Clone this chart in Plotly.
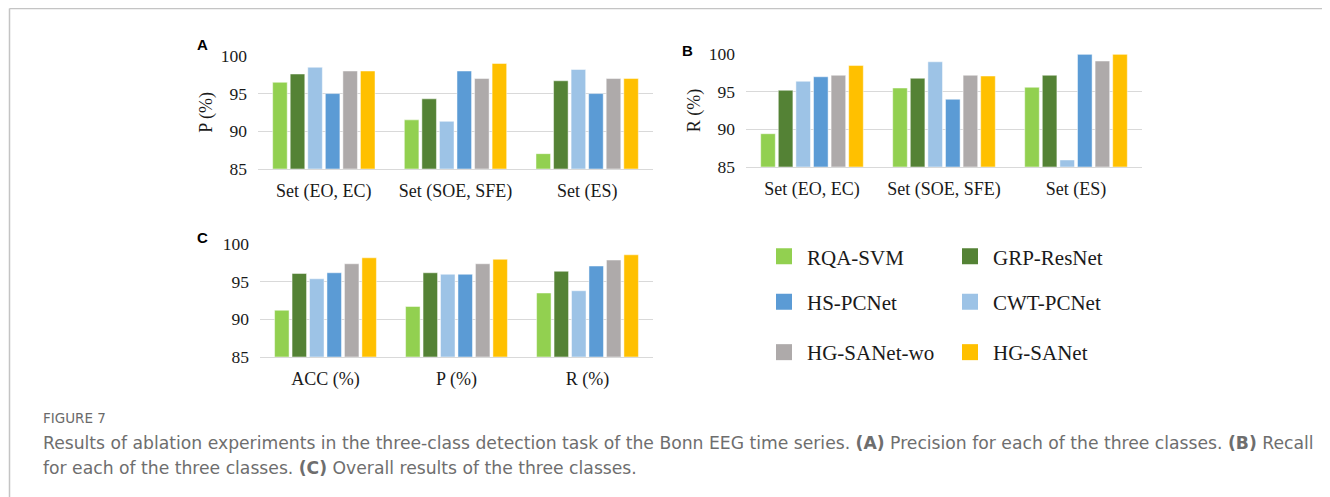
import plotly.graph_objects as go

# ---------------- data ----------------
methods = ["RQA-SVM", "GRP-ResNet", "CWT-PCNet", "HS-PCNet", "HG-SANet-wo", "HG-SANet"]
colors = ["#92D050", "#548235", "#9DC3E6", "#5B9BD5", "#AEAAAA", "#FFC000"]

sets_ab = ["Set (EO, EC)", "Set (SOE, SFE)", "Set (ES)"]
metrics_c = ["ACC (%)", "P (%)", "R (%)"]

# Panel A: precision per class
prec_rqa_svm = [96.5, 91.5, 87.0]
prec_grp_resnet = [97.6, 94.3, 96.7]
prec_cwt_pcnet = [98.5, 91.3, 98.2]
prec_hs_pcnet = [95.0, 98.0, 95.0]
prec_hg_sanet_wo = [98.0, 97.0, 97.0]
prec_hg_sanet = [98.0, 99.0, 97.0]

# Panel B: recall per class
rec_rqa_svm = [89.4, 95.5, 95.6]
rec_grp_resnet = [95.2, 96.8, 97.2]
rec_cwt_pcnet = [96.4, 99.0, 85.9]
rec_hs_pcnet = [97.0, 94.0, 100.0]
rec_hg_sanet_wo = [97.2, 97.2, 99.1]
rec_hg_sanet = [98.5, 97.1, 100.0]

# Panel C: overall
all_rqa_svm = [91.2, 91.7, 93.5]
all_grp_resnet = [96.1, 96.2, 96.4]
all_cwt_pcnet = [95.4, 96.0, 93.8]
all_hs_pcnet = [96.2, 96.0, 97.1]
all_hg_sanet_wo = [97.4, 97.4, 97.9]
all_hg_sanet = [98.2, 98.0, 98.6]

panel_a = [prec_rqa_svm, prec_grp_resnet, prec_cwt_pcnet, prec_hs_pcnet, prec_hg_sanet_wo, prec_hg_sanet]
panel_b = [rec_rqa_svm, rec_grp_resnet, rec_cwt_pcnet, rec_hs_pcnet, rec_hg_sanet_wo, rec_hg_sanet]
panel_c = [all_rqa_svm, all_grp_resnet, all_cwt_pcnet, all_hs_pcnet, all_hg_sanet_wo, all_hg_sanet]

y_ticks = [85, 90, 95, 100]

legend_of = {"RQA-SVM": "legend", "GRP-ResNet": "legend",
             "HS-PCNet": "legend2", "CWT-PCNet": "legend2",
             "HG-SANet-wo": "legend3", "HG-SANet": "legend3"}
legend_rank = {"RQA-SVM": 1, "GRP-ResNet": 2, "HS-PCNet": 1, "CWT-PCNet": 2,
               "HG-SANet-wo": 1, "HG-SANet": 2}

W, H = 1330, 497
OFF = 8  # page body margin: the figure div starts at (8, 8) in the window
def px(x):
    return (x - OFF) / W
def py(y):
    return 1 - (y - OFF) / H

fig = go.Figure()

panels = [(panel_a, sets_ab, "x", "y"),
          (panel_b, sets_ab, "x2", "y2"),
          (panel_c, metrics_c, "x3", "y3")]

for vals, cats, xa, ya in panels:
    for m, c, v in zip(methods, colors, vals):
        fig.add_trace(go.Bar(
            x=cats, y=v, name=m, xaxis=xa, yaxis=ya, legendgroup=m,
            marker=dict(color=c, line=dict(color="rgba(255,255,255,0.6)", width=0.8)),
            showlegend=False,
            hovertemplate=m + ": %{y}<extra></extra>",
        ))

# legend entries (larger square swatches, as in the reference)
for m, c in zip(methods, colors):
    fig.add_trace(go.Scatter(
        x=[None], y=[None], mode="markers", name=m, legendgroup=m,
        marker=dict(symbol="square", size=16, color=c),
        legend=legend_of[m], legendrank=legend_rank[m], hoverinfo="skip",
    ))

serif = "Liberation Serif, Times New Roman, serif"
tickfont = dict(family=serif, size=17.5, color="#1a1a1a")
catfont = dict(family=serif, size=18, color="#1a1a1a")

def yax(domain, anchor, title=None):
    d = dict(domain=domain, anchor=anchor, range=[85, 100], tickvals=y_ticks,
             showgrid=True, gridcolor="#D9D9D9", gridwidth=1.2,
             zeroline=False, showline=False, ticks="", tickfont=tickfont,
             ticklabelstandoff=10, fixedrange=True, automargin=False)
    if title:
        d["title"] = dict(text=title, font=dict(family=serif, size=18, color="#1a1a1a"))
    return d

def xax(domain, anchor):
    return dict(domain=domain, anchor=anchor, showgrid=False, zeroline=False,
                showline=True, linecolor="#D9D9D9", linewidth=1.2, ticks="",
                tickfont=catfont, ticklabelstandoff=6, fixedrange=True, automargin=False)

fig.update_layout(
    template="none",
    width=W, height=H,
    margin=dict(l=0, r=0, t=0, b=0, pad=0),
    paper_bgcolor="white", plot_bgcolor="white",
    barmode="group", bargap=0.2, bargroupgap=0.17,
    xaxis=xax([px(258), px(653)], "y"),
    yaxis=yax([py(168.7), py(56)], "x", "P (%)"),
    xaxis2=xax([px(746), px(1142)], "y2"),
    yaxis2=yax([py(166.7), py(54.3)], "x2", "R (%)"),
    xaxis3=xax([px(260), px(653)], "y3"),
    yaxis3=yax([py(356.7), py(244.3)], "x3"),
    font=dict(family=serif),
)

legend_common = dict(orientation="h", xanchor="left", yanchor="middle",
                     entrywidth=135, entrywidthmode="pixels", itemsizing="trace",
                     itemwidth=36,
                     font=dict(family=serif, size=21, color="#1a1a1a"),
                     bgcolor="rgba(0,0,0,0)", borderwidth=0, traceorder="normal",
                     itemclick=False, itemdoubleclick=False)
fig.update_layout(
    legend=dict(x=px(761), y=py(256.7), **legend_common),
    legend2=dict(x=px(761), y=py(302), **legend_common),
    legend3=dict(x=px(761), y=py(352.5), **legend_common),
)

# panel letters
for txt, x, y in [("A", 202, 44), ("B", 687, 50), ("C", 202, 238)]:
    fig.add_annotation(text="<b>" + txt + "</b>", x=px(x), y=py(y), xref="paper", yref="paper",
                       showarrow=False, xanchor="center", yanchor="middle",
                       font=dict(family="Liberation Sans, Arial, sans-serif", size=15, color="#000"))

# frame lines
fig.add_shape(type="line", xref="paper", yref="paper", x0=px(9.5), x1=1, y0=py(8.6), y1=py(8.6),
              line=dict(color="#C4C4C4", width=1.5))
fig.add_shape(type="line", xref="paper", yref="paper", x0=px(9.5), x1=px(9.5), y0=py(8.6), y1=0,
              line=dict(color="#C4C4C4", width=1.5))

# caption
cap_font = "DejaVu Sans, Open Sans, sans-serif"
fig.add_annotation(text="FIGURE 7", x=px(41), y=py(418), xref="paper", yref="paper",
                   showarrow=False, xanchor="left", yanchor="middle",
                   font=dict(family=cap_font, size=13.5, color="#6a6a6a"))
fig.add_annotation(
    text="Results of ablation experiments in the three-class detection task of the Bonn EEG time series. "
         "<b>(A)</b> Precision for each of the three classes. <b>(B)</b> Recall",
    x=px(41), y=py(443), xref="paper", yref="paper", showarrow=False,
    xanchor="left", yanchor="middle", font=dict(family=cap_font, size=17.2, color="#6e6e6e"))
fig.add_annotation(
    text="for each of the three classes. <b>(C)</b> Overall results of the three classes.",
    x=px(41), y=py(468), xref="paper", yref="paper", showarrow=False,
    xanchor="left", yanchor="middle", font=dict(family=cap_font, size=17.2, color="#6e6e6e"))

fig.write_html("out.html")
